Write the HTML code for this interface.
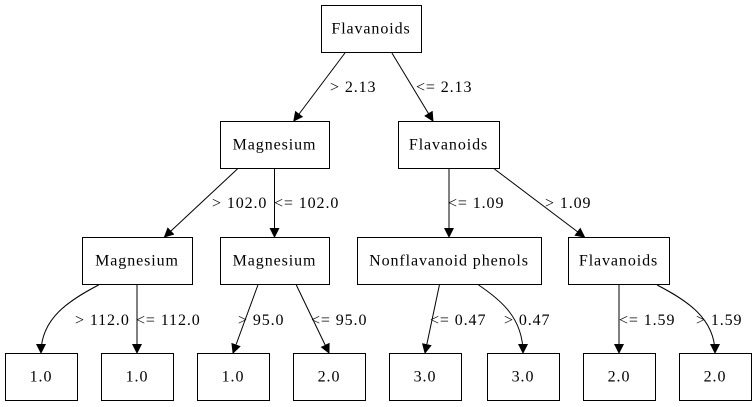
<!DOCTYPE html>
<html><head><meta charset="utf-8"><style>
html,body{margin:0;padding:0;background:#fff;}
svg{display:block;font-family:"Liberation Serif",serif;font-size:16px;letter-spacing:0.9px;}
</style></head><body>
<svg width="756" height="407" viewBox="0 0 756 407">
<defs><marker id="ah" markerWidth="10" markerHeight="10" refX="9" refY="5" orient="auto" markerUnits="userSpaceOnUse"><path d="M0,0 L10,5 L0,10 Z" fill="#000"/></marker></defs>
<g id="edges" fill="none" stroke="#000" stroke-width="1"></g>
<g id="nodes"></g>
<g id="elabels"></g>
</svg>
<script>
const nodeNames=["Flavanoids","Magnesium","Flavanoids","Magnesium","Magnesium","Nonflavanoid phenols","Flavanoids","1.0","1.0","1.0","2.0","3.0","3.0","2.0","2.0"];
const nodeBoxes=[[321,5,100,47],[220,121,109,47],[398,121,101,47],[82,237,110,47],[220,237,109,47],[357,237,184,47],[568,237,101,47],[5,353,72,47],[101,353,72,47],[197,353,72,47],[293,353,72,47],[389,353,72,47],[487,353,72,47],[583,353,72,47],[679,353,72,47]];
const edgeFrom=[0,0,1,1,2,2,3,3,4,4,5,5,6,6];
const edgeTo=[1,2,3,4,5,6,7,8,9,10,11,12,13,14];
const edgeLabels=["> 2.13","<= 2.13","> 102.0","<= 102.0","<= 1.09","> 1.09","> 112.0","<= 112.0","> 95.0","<= 95.0","<= 0.47","> 0.47","<= 1.59","> 1.59"];
const labelPos=[[330,92],[416,92],[212,208],[274,208],[448,208],[545,208],[75,325],[136,325],[238,325],[311,325],[430,325],[504,325],[619,325],[696,325]];
const NS="http://www.w3.org/2000/svg";
const gN=document.getElementById('nodes'),gE=document.getElementById('edges'),gL=document.getElementById('elabels');
nodeBoxes.forEach((b,i)=>{
  const r=document.createElementNS(NS,'rect');
  r.setAttribute('x',b[0]+0.5);r.setAttribute('y',b[1]+0.5);r.setAttribute('width',b[2]);r.setAttribute('height',b[3]);
  r.setAttribute('fill','#fff');r.setAttribute('stroke','#000');
  
  
  gN.appendChild(r);
  const t=document.createElementNS(NS,'text');
  t.setAttribute('x',b[0]+b[2]/2);t.setAttribute('y',b[1]+b[3]/2+5);t.setAttribute('text-anchor','middle');
  t.textContent=nodeNames[i];
  
  
  gN.appendChild(t);
});
edgeFrom.forEach((f,i)=>{
  const a=nodeBoxes[f],b=nodeBoxes[edgeTo[i]];
  const ac=a[0]+a[2]/2,bc=b[0]+b[2]/2;
  const leaf=edgeTo[i]>=7;
  let sx=ac+(bc-ac)*(leaf?0.4:0.27); if(Math.abs(bc-ac)<10) sx=bc;
  const sy=a[1]+a[3]+1, ey=b[1];
  let ex=leaf?bc:bc+(ac-bc)*0.2; if(Math.abs(bc-ac)<10) ex=bc;
  const p=document.createElementNS(NS,'path');
  const dx=ex-sx;
  p.setAttribute('d',(!leaf||Math.abs(dx)<40)?`M${sx},${sy} L${ex},${ey}`:`M${sx},${sy} C${sx+dx*0.5},${sy+15} ${ex},${ey-35} ${ex},${ey}`);
  p.setAttribute('marker-end','url(#ah)');
  
  
  gE.appendChild(p);
  const t=document.createElementNS(NS,'text');
  t.setAttribute('x',labelPos[i][0]);t.setAttribute('y',labelPos[i][1]);
  t.textContent=edgeLabels[i];
  
  
  gL.appendChild(t);
});
</script>
</body></html>
